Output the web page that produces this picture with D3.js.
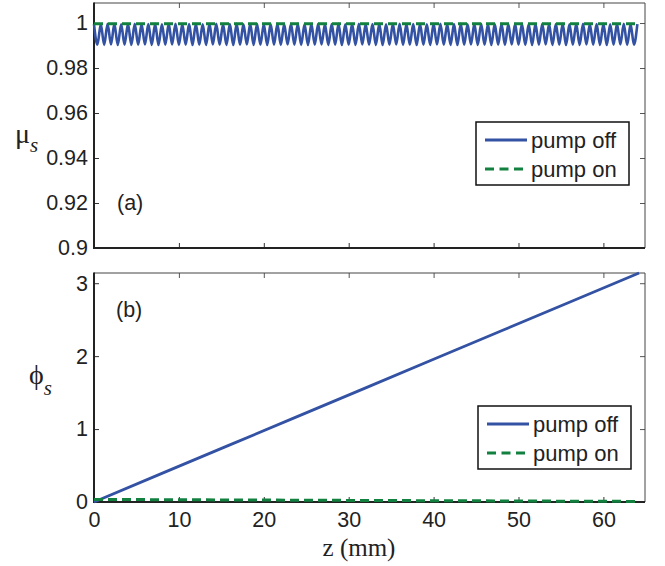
<!DOCTYPE html>
<html>
<head>
<meta charset="utf-8">
<script src="https://cdn.jsdelivr.net/npm/d3@7"></script>
<style>
  body { margin: 0; background: #fff; }
  text { fill: #222; }
</style>
</head>
<body>
<script>
// ---- data ----
var legendLabels = ["pump off", "pump on"];
var xTicks = [0, 10, 20, 30, 40, 50, 60];
var muTicks = [0.9, 0.92, 0.94, 0.96, 0.98, 1];
var phiTicks = [0, 1, 2, 3];

// (a) mu_s, pump off: ripple sampled every 0.4 mm (peak, trough, ...)
var zStep = 0.4;
var muOff = [
  .9995,.9904,.9994,.9903,.9996,.9905,.9995,.9902,.9994,.9904,.9995,.9903,.9996,.9904,.9994,.9905,.9995,.9903,.9996,.9902,
  .9994,.9904,.9995,.9905,.9996,.9903,.9994,.9904,.9995,.9902,.9996,.9904,.9994,.9903,.9995,.9905,.9996,.9904,.9994,.9903,
  .9995,.9902,.9996,.9904,.9994,.9905,.9995,.9903,.9996,.9904,.9994,.9902,.9995,.9904,.9996,.9903,.9994,.9905,.9995,.9904,
  .9996,.9903,.9994,.9902,.9995,.9904,.9996,.9905,.9994,.9903,.9995,.9904,.9996,.9902,.9994,.9904,.9995,.9903,.9996,.9905,
  .9994,.9904,.9995,.9903,.9996,.9902,.9994,.9904,.9995,.9905,.9996,.9903,.9994,.9904,.9995,.9902,.9996,.9904,.9994,.9903,
  .9995,.9905,.9996,.9904,.9994,.9903,.9995,.9902,.9996,.9904,.9994,.9905,.9995,.9903,.9996,.9904,.9994,.9902,.9995,.9904,
  .9996,.9903,.9994,.9905,.9995,.9904,.9996,.9903,.9994,.9902,.9995,.9904,.9996,.9905,.9994,.9903,.9995,.9904,.9996,.9902,
  .9994,.9904,.9995,.9903,.9996,.9905,.9994,.9904,.9995,.9903,.9996,.9902,.9994,.9904,.9995,.9905,.9996,.9903,.9994,.9904,
  .9995
];
var zMuOn = [0, 64.2];
var muOn = [0.9997, 0.9997];

// (b) phi_s
var zPhi = [0, 8, 16, 24, 32, 40, 48, 56, 64.2];
var phiOff = [0, 0.392, 0.783, 1.174, 1.565, 1.957, 2.348, 2.739, 3.14];
var phiOn = [0.035, 0.032, 0.028, 0.025, 0.021, 0.018, 0.015, 0.011, 0.008];

// ---- layout ----
var W = 665, H = 566;
var left = 94, right = 645;
var blue = "#3352a3", green = "#12803f";

var svg = d3.select("body").append("svg")
    .attr("width", W)
    .attr("height", H)
    .style("font-family", "'Liberation Sans', Arial, sans-serif");

var x = d3.scaleLinear().domain([0, 64.9]).range([left, right]);

var line = function(yScale, curve) {
  return d3.line()
    .x(function(d) { return x(d[0]); })
    .y(function(d) { return yScale(d[1]); })
    .curve(curve || d3.curveLinear);
};

function panel(top, bottom, y, yTicks, yFmt, showX) {
  var g = svg.append("g");

  // ticks (inward on all sides)
  g.append("g")
    .attr("transform", "translate(" + left + ",0)")
    .call(d3.axisLeft(y).tickValues(yTicks).tickFormat(yFmt).tickSizeInner(-5).tickSizeOuter(0).tickPadding(6))
    .call(function(a) {
      a.select(".domain").remove();
      a.selectAll("line").attr("stroke", "#333");
      a.selectAll("text").attr("font-size", 21.5).attr("fill", "#222").attr("font-family", "'Liberation Sans', Arial, sans-serif");
    });
  g.append("g")
    .attr("transform", "translate(" + right + ",0)")
    .call(d3.axisRight(y).tickValues(yTicks).tickFormat("").tickSizeInner(-5).tickSizeOuter(0))
    .call(function(a) { a.select(".domain").remove(); a.selectAll("line").attr("stroke", "#555"); });
  g.append("g")
    .attr("transform", "translate(0," + bottom + ")")
    .call(d3.axisBottom(x).tickValues(xTicks).tickFormat(showX ? d3.format("d") : "").tickSizeInner(-5).tickSizeOuter(0).tickPadding(10))
    .call(function(a) {
      a.select(".domain").remove();
      a.selectAll("line").attr("stroke", "#333");
      a.selectAll("text").attr("font-size", 21.5).attr("fill", "#222").attr("font-family", "'Liberation Sans', Arial, sans-serif");
    });
  g.append("g")
    .attr("transform", "translate(0," + top + ")")
    .call(d3.axisTop(x).tickValues(xTicks).tickFormat("").tickSizeInner(-5).tickSizeOuter(0))
    .call(function(a) { a.select(".domain").remove(); a.selectAll("line").attr("stroke", "#555"); });

  // frame
  g.append("line").attr("x1", left).attr("x2", right).attr("y1", top).attr("y2", top)
    .attr("stroke", "#444").attr("stroke-width", 1);
  g.append("line").attr("x1", right).attr("x2", right).attr("y1", top).attr("y2", bottom)
    .attr("stroke", "#444").attr("stroke-width", 1);
  g.append("line").attr("x1", left).attr("x2", right).attr("y1", bottom).attr("y2", bottom)
    .attr("stroke", "#222").attr("stroke-width", 2);
  g.append("line").attr("x1", left).attr("x2", left).attr("y1", top - 0.5).attr("y2", bottom + 1)
    .attr("stroke", "#222").attr("stroke-width", 2);

  return g;
}

function legend(bx, by) {
  var lg = svg.append("g").attr("transform", "translate(" + bx + "," + by + ")");
  lg.append("rect").attr("width", 153).attr("height", 63)
    .attr("fill", "#fff").attr("stroke", "#111").attr("stroke-width", 1.5);
  var rows = lg.selectAll("g.row").data(legendLabels).enter().append("g")
    .attr("class", "row")
    .attr("transform", function(d, i) { return "translate(0," + (18 + i * 29) + ")"; });
  rows.append("line").attr("x1", 9).attr("x2", 51)
    .attr("stroke", function(d, i) { return i ? green : blue; })
    .attr("stroke-width", 3)
    .attr("stroke-dasharray", function(d, i) { return i ? "9,5.5" : null; });
  rows.append("text").attr("x", 55).attr("y", 7.5).attr("font-size", 22).text(function(d) { return d; });
}

// ---- panel (a) ----
var yMu = d3.scaleLinear().domain([0.9, 1.0089]).range([248, 3]);
var pa = panel(3, 248, yMu, muTicks, function(d) { return d === 1 ? "1" : d3.format("")(+d.toFixed(2)); }, false);

pa.append("path")
  .datum(muOff.map(function(v, i) { return [i * zStep, v]; }))
  .attr("d", line(yMu, d3.curveMonotoneX))
  .attr("fill", "none").attr("stroke", blue).attr("stroke-width", 2.6);
pa.append("path")
  .datum(zMuOn.map(function(z, i) { return [z, muOn[i]]; }))
  .attr("d", line(yMu))
  .attr("fill", "none").attr("stroke", green).attr("stroke-width", 3).attr("stroke-dasharray", "9,5");

legend(476, 122);

svg.append("text").attr("x", 117).attr("y", 210).attr("font-size", 21.5).text("(a)");

// ---- panel (b) ----
var yPhi = d3.scaleLinear().domain([0, 3.14]).range([502, 273]);
var pb = panel(273, 502, yPhi, phiTicks, d3.format("d"), true);

pb.append("path")
  .datum(zPhi.map(function(z, i) { return [z, phiOff[i]]; }))
  .attr("d", line(yPhi))
  .attr("fill", "none").attr("stroke", blue).attr("stroke-width", 2.8);
pb.append("path")
  .datum(zPhi.map(function(z, i) { return [z, phiOn[i]]; }))
  .attr("d", line(yPhi))
  .attr("fill", "none").attr("stroke", green).attr("stroke-width", 3).attr("stroke-dasharray", "9,5");

legend(478, 406);

svg.append("text").attr("x", 116).attr("y", 317).attr("font-size", 21.5).text("(b)");

// ---- axis titles ----
var serif = "'Liberation Serif', 'Times New Roman', serif";
var mu = svg.append("text").attr("x", 15).attr("y", 143).attr("font-family", serif).attr("font-size", 28);
mu.append("tspan").text("μ");
mu.append("tspan").attr("dy", 9).attr("font-style", "italic").attr("font-size", 21).text("s");

var phi = svg.append("text").attr("x", 29).attr("y", 384).attr("font-family", serif).attr("font-size", 28);
phi.append("tspan").text("ϕ");
phi.append("tspan").attr("dy", 11).attr("font-style", "italic").attr("font-size", 21).text("s");

svg.append("text").attr("x", 359).attr("y", 556).attr("text-anchor", "middle")
  .attr("font-family", serif).attr("font-size", 25).text("z (mm)");
</script>
</body>
</html>
